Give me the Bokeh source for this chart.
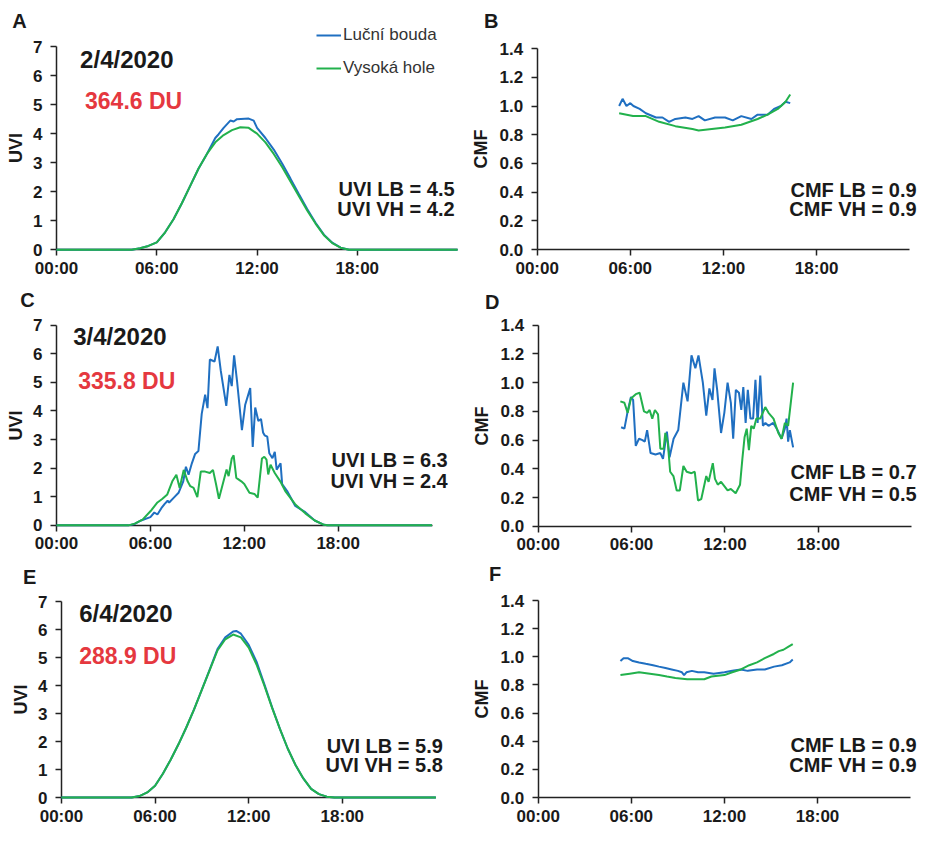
from bokeh.plotting import figure
from bokeh.models import Range1d, FixedTicker, Label, Legend, LegendItem, NumeralTickFormatter
from bokeh.layouts import column, row
from bokeh.embed import file_html
from bokeh.resources import INLINE

# ---------------- data (hours of day, values) ----------------
# Panel A: UVI 2/4/2020
a_lb_h = [0, 4.5, 5.0, 5.5, 6.0, 6.5, 7.0, 7.5, 8.0, 8.5, 9.0, 9.5, 9.7, 10.0, 10.4, 10.6, 10.8, 11.5, 11.8, 12.0, 12.5, 13.0, 13.5, 14.0, 14.5, 15.0, 15.5, 16.0, 16.5, 17.0, 17.5, 24]
a_lb_v = [0, 0, 0.05, 0.13, 0.25, 0.6, 1.05, 1.6, 2.2, 2.8, 3.3, 3.85, 3.98, 4.2, 4.45, 4.42, 4.5, 4.52, 4.45, 4.2, 3.85, 3.45, 2.97, 2.45, 1.92, 1.4, 0.93, 0.52, 0.24, 0.07, 0, 0]
a_vh_h = [0, 4.5, 5.0, 5.5, 6.0, 6.5, 7.0, 7.5, 8.0, 8.5, 9.0, 9.5, 10.0, 10.5, 11.0, 11.5, 12.0, 12.5, 13.0, 13.5, 14.0, 14.5, 15.0, 15.5, 16.0, 16.5, 17.0, 17.5, 24]
a_vh_v = [0, 0, 0.05, 0.13, 0.25, 0.6, 1.05, 1.6, 2.2, 2.8, 3.3, 3.7, 3.95, 4.12, 4.22, 4.2, 4.0, 3.7, 3.3, 2.85, 2.35, 1.85, 1.35, 0.9, 0.5, 0.23, 0.07, 0, 0]

# Panel B: CMF 2/4/2020
b_lb_h = [5.28, 5.5, 5.75, 6.0, 6.2, 6.6, 7.0, 7.65, 8.07, 8.5, 8.9, 9.55, 10.0, 10.4, 10.8, 11.46, 12.1, 12.6, 13.15, 13.8, 14.2, 14.84, 15.26, 15.7, 16.0, 16.3]
b_lb_v = [1.0, 1.05, 1.0, 1.02, 1.0, 0.98, 0.95, 0.92, 0.92, 0.89, 0.91, 0.92, 0.91, 0.93, 0.9, 0.92, 0.92, 0.9, 0.93, 0.91, 0.94, 0.94, 0.98, 1.0, 1.03, 1.02]
b_vh_h = [5.28, 6.17, 7.0, 7.86, 8.9, 10.0, 10.4, 11.25, 12.1, 13.15, 14.2, 14.84, 15.5, 16.0, 16.3]
b_vh_v = [0.95, 0.93, 0.93, 0.89, 0.86, 0.84, 0.83, 0.84, 0.85, 0.87, 0.91, 0.94, 0.98, 1.03, 1.08]

# Panel C: UVI 3/4/2020
c_lb_h = [0, 4.6, 5.0, 5.4, 6.0, 6.25, 6.45, 6.7, 6.9, 7.1, 7.2, 7.5, 7.8, 8.1, 8.27, 8.44, 8.65, 8.86, 9.07, 9.28, 9.5, 9.65, 9.8, 10.1, 10.3, 10.5, 10.85, 11.05, 11.2, 11.35, 11.55, 11.85, 12.06, 12.38, 12.54, 12.7, 12.9, 13.07, 13.2, 13.3, 13.47, 13.6, 13.8, 13.95, 14.07, 14.32, 14.42, 14.74, 15.26, 15.9, 16.5, 17.1, 17.3, 24]
c_lb_v = [0, 0, 0.05, 0.17, 0.29, 0.45, 0.38, 0.6, 0.74, 0.86, 0.8, 0.97, 1.14, 1.54, 2.05, 1.77, 2.17, 2.5, 2.6, 3.9, 4.57, 4.1, 5.8, 5.73, 6.26, 5.4, 4.18, 5.26, 4.87, 5.95, 4.98, 3.33, 4.22, 4.8, 2.74, 4.12, 3.65, 3.72, 3.25, 3.15, 3.1, 2.52, 2.35, 2.57, 1.95, 2.17, 1.44, 1.2, 0.68, 0.46, 0.17, 0.02, 0, 0]
c_vh_h = [0, 4.6, 5.0, 5.5, 6.03, 6.45, 6.75, 7.08, 7.4, 7.66, 7.87, 8.13, 8.38, 8.55, 8.76, 9.0, 9.22, 9.5, 9.8, 10.0, 10.2, 10.38, 10.56, 10.87, 11.0, 11.2, 11.32, 11.49, 11.81, 12.0, 12.33, 12.65, 12.86, 13.13, 13.28, 13.42, 13.53, 13.68, 13.95, 14.3, 14.62, 15.25, 15.9, 16.5, 17.1, 17.34, 24]
c_vh_v = [0, 0, 0.06, 0.2, 0.51, 0.8, 0.92, 1.08, 1.54, 1.77, 1.31, 1.94, 1.54, 1.37, 1.31, 0.99, 1.88, 1.88, 1.83, 1.94, 1.43, 0.93, 1.31, 1.95, 1.72, 2.34, 2.45, 1.66, 1.54, 1.45, 1.14, 1.1, 0.97, 2.34, 2.4, 2.3, 1.78, 2.12, 1.83, 1.54, 1.2, 0.74, 0.42, 0.17, 0.02, 0, 0]

# Panel D: CMF 3/4/2020
d_lb_h = [5.33, 5.54, 5.75, 5.96, 6.1, 6.27, 6.48, 6.7, 6.85, 7.0, 7.22, 7.54, 7.85, 8.02, 8.27, 8.44, 8.7, 9.0, 9.33, 9.6, 9.85, 10.1, 10.3, 10.58, 10.8, 11.0, 11.2, 11.33, 11.5, 11.75, 11.96, 12.17, 12.38, 12.53, 12.7, 12.9, 13.05, 13.18, 13.33, 13.47, 13.64, 13.81, 13.96, 14.1, 14.27, 14.44, 14.6, 14.8, 15.1, 15.33, 15.64, 15.85, 15.96, 16.06, 16.17, 16.38]
d_lb_v = [0.69, 0.68, 0.8, 0.9, 0.88, 0.56, 0.61, 0.6, 0.59, 0.67, 0.51, 0.5, 0.51, 0.47, 0.66, 0.48, 0.61, 0.67, 1.0, 0.87, 1.19, 1.1, 1.19, 1.0, 0.77, 0.96, 0.88, 1.1, 0.95, 0.65, 0.79, 1.0, 0.86, 0.61, 0.95, 0.93, 0.81, 0.97, 0.72, 0.95, 0.75, 0.75, 1.02, 0.72, 1.05, 0.7, 0.72, 0.7, 0.72, 0.68, 0.61, 0.68, 0.75, 0.59, 0.67, 0.55]
d_vh_h = [5.28, 5.54, 5.75, 5.96, 6.27, 6.52, 6.8, 7.0, 7.16, 7.33, 7.5, 7.7, 7.85, 8.06, 8.17, 8.33, 8.48, 8.69, 8.9, 9.1, 9.33, 9.54, 9.85, 10.06, 10.27, 10.48, 10.8, 10.95, 11.22, 11.36, 11.54, 11.75, 11.96, 12.17, 12.38, 12.69, 12.97, 13.12, 13.26, 13.4, 13.54, 13.69, 13.85, 14.02, 14.27, 14.59, 14.8, 15.12, 15.43, 15.64, 15.85, 16.06, 16.38]
d_vh_v = [0.87, 0.86, 0.79, 0.89, 0.92, 0.93, 0.8, 0.79, 0.81, 0.75, 0.81, 0.78, 0.54, 0.54, 0.65, 0.58, 0.38, 0.35, 0.25, 0.25, 0.42, 0.38, 0.37, 0.38, 0.18, 0.19, 0.35, 0.31, 0.44, 0.33, 0.29, 0.31, 0.28, 0.25, 0.26, 0.23, 0.29, 0.47, 0.62, 0.68, 0.53, 0.7, 0.68, 0.75, 0.75, 0.83, 0.79, 0.75, 0.65, 0.61, 0.72, 0.7, 1.0]

# Panel E: UVI 6/4/2020
e_lb_h = [0, 4.5, 5.0, 5.5, 6.0, 6.5, 7.0, 7.5, 8.0, 8.5, 9.0, 9.5, 10.0, 10.5, 11.0, 11.2, 11.5, 12.0, 12.5, 13.0, 13.5, 14.0, 14.5, 15.0, 15.5, 16.0, 16.5, 17.0, 17.5, 24]
e_lb_v = [0, 0, 0.05, 0.18, 0.42, 0.85, 1.35, 1.9, 2.5, 3.15, 3.85, 4.57, 5.3, 5.72, 5.93, 5.95, 5.85, 5.45, 4.85, 4.05, 3.22, 2.45, 1.75, 1.16, 0.68, 0.31, 0.12, 0.03, 0, 0]
e_vh_h = [0, 4.5, 5.0, 5.5, 6.0, 6.5, 7.0, 7.5, 8.0, 8.5, 9.0, 9.5, 10.0, 10.5, 11.0, 11.5, 12.0, 12.5, 13.0, 13.5, 14.0, 14.5, 15.0, 15.5, 16.0, 16.5, 17.0, 17.5, 24]
e_vh_v = [0, 0, 0.05, 0.18, 0.42, 0.85, 1.35, 1.9, 2.5, 3.15, 3.85, 4.55, 5.25, 5.65, 5.82, 5.72, 5.35, 4.75, 4.0, 3.2, 2.45, 1.75, 1.16, 0.68, 0.31, 0.12, 0.03, 0, 0]

# Panel F: CMF 6/4/2020
f_lb_h = [5.3, 5.5, 5.77, 6.1, 6.5, 6.93, 7.4, 7.78, 8.2, 8.6, 9.0, 9.26, 9.4, 9.55, 9.9, 10.3, 10.7, 11.3, 12.0, 12.5, 13.05, 13.5, 14.1, 14.6, 15.2, 15.7, 16.2, 16.4]
f_lb_v = [0.97, 0.99, 0.99, 0.97, 0.96, 0.95, 0.94, 0.93, 0.92, 0.91, 0.9, 0.89, 0.87, 0.89, 0.9, 0.89, 0.89, 0.88, 0.89, 0.9, 0.91, 0.9, 0.91, 0.91, 0.93, 0.94, 0.96, 0.98]
f_vh_h = [5.3, 5.9, 6.5, 7.2, 7.78, 8.3, 8.84, 9.6, 10.3, 10.7, 11.16, 12.0, 12.5, 13.06, 13.6, 14.1, 14.6, 15.18, 15.5, 15.8, 16.1, 16.4]
f_vh_v = [0.87, 0.88, 0.89, 0.88, 0.87, 0.86, 0.85, 0.84, 0.84, 0.84, 0.86, 0.87, 0.89, 0.91, 0.94, 0.96, 0.99, 1.02, 1.04, 1.05, 1.07, 1.09]

x_ticks = [0, 6, 12, 18]
x_tick_labels = ["00:00", "06:00", "12:00", "18:00"]
uvi_ticks = [0, 1, 2, 3, 4, 5, 6, 7]
cmf_ticks = [0.0, 0.2, 0.4, 0.6, 0.8, 1.0, 1.2, 1.4]

dates = ["2/4/2020", "3/4/2020", "6/4/2020"]
ozone = ["364.6 DU", "335.8 DU", "288.9 DU"]
uvi_lb = [4.5, 6.3, 5.9]
uvi_vh = [4.2, 2.4, 5.8]
cmf_lb = [0.9, 0.7, 0.9]
cmf_vh = [0.9, 0.5, 0.9]
series_names = ["Luční bouda", "Vysoká hole"]

# ---------------- styling / geometry ----------------
FONT = "Liberation Sans"
BLUE = "#1f6fc1"
GREEN = "#22b14c"
RED = "#e5383f"
INK = "#1a1a1a"

SX = 923 / 939
SY = 828 / 844

# figure boxes in layout px (x0, x1, y0, y1)
BOX = {
    "A": (0, 462, 0, 279), "B": (462, 923, 0, 279),
    "C": (0, 462, 279, 556), "D": (462, 923, 279, 556),
    "E": (0, 462, 556, 828), "F": (462, 923, 556, 828),
}
# reference plot-area geometry (reference px: x of 0h, x of 24h, y of top value, y of 0)
REF = {
    "A": (57, 465, 47, 254), "B": (546, 925, 49, 254),
    "C": (57, 439, 331, 535), "D": (547, 927, 331, 536),
    "E": (62, 443, 613, 817), "F": (547, 926, 612, 816),
}
# geometry actually drawn, in layout px (reference scaled to fit; bottom row squeezed)
OUT = {k: (v[0] * SX, v[1] * SX, v[2] * SY, v[3] * SY) for k, v in REF.items()}
OUT["E"] = (62 * SX, 443 * SX, 601, 797)
OUT["F"] = (547 * SX, 926 * SX, 600, 797)


def X(key, px):
    fl, fr, ft, fb = REF[key]
    return (px - fl) / (fr - fl) * 24


def Y(key, py, ymax):
    fl, fr, ft, fb = REF[key]
    return (fb - py) / (fb - ft) * ymax


def make_fig(key, uvi):
    ymax = 7 if uvi else 1.4
    x0, x1, y0, y1 = BOX[key]
    fl, fr, ft, fb = OUT[key]
    kx = (fr - fl) / 24
    ky = (fb - ft) / ymax
    xr = Range1d(-(fl - x0) / kx, 24 + (x1 - fr) / kx)
    yr = Range1d(-(y1 - fb) / ky, ymax + (ft - y0) / ky)
    p = figure(width=x1 - x0, height=y1 - y0, x_range=xr, y_range=yr,
               output_backend="svg", toolbar_location=None,
               min_border_left=0, min_border_right=0, min_border_top=0, min_border_bottom=0)
    p.outline_line_color = None
    p.grid.visible = False
    for ax in (p.xaxis[0], p.yaxis[0]):
        ax.fixed_location = 0
        ax.axis_line_color = "#222222"
        ax.axis_line_width = 1.5
        ax.major_tick_line_color = "#222222"
        ax.major_tick_line_width = 1.5
        ax.major_tick_in = 0
        ax.major_tick_out = 6
        ax.minor_tick_line_color = None
        ax.major_label_text_font = FONT
        ax.major_label_text_font_style = "bold"
        ax.major_label_text_font_size = "17px"
        ax.major_label_text_color = INK
    p.xaxis.bounds = (0, 24)
    p.yaxis.bounds = (0, ymax)
    p.xaxis.ticker = FixedTicker(ticks=x_ticks)
    p.xaxis.major_label_overrides = {t: s for t, s in zip(x_ticks, x_tick_labels)}
    p.xaxis.major_label_standoff = 3
    if uvi:
        p.yaxis.ticker = FixedTicker(ticks=uvi_ticks)
        p.yaxis.axis_label = "UVI"
        p.yaxis.axis_label_standoff = 4
    else:
        p.yaxis.ticker = FixedTicker(ticks=cmf_ticks)
        p.yaxis.formatter = NumeralTickFormatter(format="0.0")
        p.yaxis.axis_label = "CMF"
        p.yaxis.axis_label_standoff = 6
    p.yaxis.major_label_standoff = 8
    p.yaxis.axis_label_text_font = FONT
    p.yaxis.axis_label_text_font_style = "bold"
    p.yaxis.axis_label_text_font_size = "18px"
    p.yaxis.axis_label_text_color = INK
    return p


def add_text(p, x, y, text, size, color=INK, align="left", bold=True):
    p.add_layout(Label(x=x, y=y, text=text, text_font=FONT, text_font_size=size,
                       text_font_style="bold" if bold else "normal", text_color=color,
                       text_align=align, text_baseline="middle"))


def add_lines(p, xb, yb, xg, yg):
    r1 = p.line(xb, yb, line_color=BLUE, line_width=2, level="overlay")
    r2 = p.line(xg, yg, line_color=GREEN, line_width=2, level="overlay")
    return r1, r2


# ---- Panel A ----
pA = make_fig("A", True)
rA1, rA2 = add_lines(pA, a_lb_h, a_lb_v, a_vh_h, a_vh_v)
add_text(pA, X("A", 12), Y("A", 21, 7), "A", "20px")
add_text(pA, X("A", 81), Y("A", 60, 7), dates[0], "24px")
add_text(pA, X("A", 86), Y("A", 102, 7), ozone[0], "23px", RED)
add_text(pA, X("A", 462), Y("A", 192, 7), f"UVI LB = {uvi_lb[0]}", "20px", align="right")
add_text(pA, X("A", 462), Y("A", 213, 7), f"UVI VH = {uvi_vh[0]}", "20px", align="right")
legend = Legend(items=[LegendItem(label=series_names[0], renderers=[rA1]),
                       LegendItem(label=series_names[1], renderers=[rA2])],
                location=(316, 201), orientation="vertical")
legend.background_fill_alpha = 0
legend.border_line_color = None
legend.padding = 0
legend.margin = 0
legend.spacing = 13
legend.glyph_width = 25
legend.glyph_height = 20
legend.label_height = 20
legend.label_standoff = 2
legend.label_text_font = FONT
legend.label_text_font_size = "17px"
legend.label_text_color = "#333333"
pA.add_layout(legend, "center")

# ---- Panel B ----
pB = make_fig("B", False)
add_lines(pB, b_lb_h, b_lb_v, b_vh_h, b_vh_v)
add_text(pB, X("B", 492), Y("B", 21, 1.4), "B", "20px")
add_text(pB, X("B", 932), Y("B", 193, 1.4), f"CMF LB = {cmf_lb[0]}", "20px", align="right")
add_text(pB, X("B", 932), Y("B", 213, 1.4), f"CMF VH = {cmf_vh[0]}", "20px", align="right")

# ---- Panel C ----
pC = make_fig("C", True)
add_lines(pC, c_lb_h, c_lb_v, c_vh_h, c_vh_v)
add_text(pC, X("C", 20), Y("C", 305, 7), "C", "20px")
add_text(pC, X("C", 74), Y("C", 343, 7), dates[1], "24px")
add_text(pC, X("C", 79), Y("C", 388, 7), ozone[1], "23px", RED)
add_text(pC, X("C", 455), Y("C", 468, 7), f"UVI LB = {uvi_lb[1]}", "20px", align="right")
add_text(pC, X("C", 455), Y("C", 490, 7), f"UVI VH = {uvi_vh[1]}", "20px", align="right")

# ---- Panel D ----
pD = make_fig("D", False)
add_lines(pD, d_lb_h, d_lb_v, d_vh_h, d_vh_v)
add_text(pD, X("D", 493), Y("D", 307, 1.4), "D", "20px")
add_text(pD, X("D", 932), Y("D", 481, 1.4), f"CMF LB = {cmf_lb[1]}", "20px", align="right")
add_text(pD, X("D", 932), Y("D", 503, 1.4), f"CMF VH = {cmf_vh[1]}", "20px", align="right")

# ---- Panel E ----
pE = make_fig("E", True)
add_lines(pE, e_lb_h, e_lb_v, e_vh_h, e_vh_v)
add_text(pE, X("E", 23), Y("E", 588, 7), "E", "20px")
add_text(pE, X("E", 80), Y("E", 625, 7), dates[2], "24px")
add_text(pE, X("E", 80), Y("E", 670, 7), ozone[2], "23px", RED)
add_text(pE, X("E", 450), Y("E", 763, 7), f"UVI LB = {uvi_lb[2]}", "20px", align="right")
add_text(pE, X("E", 450), Y("E", 783, 7), f"UVI VH = {uvi_vh[2]}", "20px", align="right")

# ---- Panel F ----
pF = make_fig("F", False)
add_lines(pF, f_lb_h, f_lb_v, f_vh_h, f_vh_v)
add_text(pF, X("F", 497), Y("F", 585, 1.4), "F", "20px")
add_text(pF, X("F", 932), Y("F", 762, 1.4), f"CMF LB = {cmf_lb[2]}", "20px", align="right")
add_text(pF, X("F", 932), Y("F", 782, 1.4), f"CMF VH = {cmf_vh[2]}", "20px", align="right")

layout = column(row(pA, pB), row(pC, pD), row(pE, pF))

open("out.html", "w").write(file_html(layout, INLINE))
